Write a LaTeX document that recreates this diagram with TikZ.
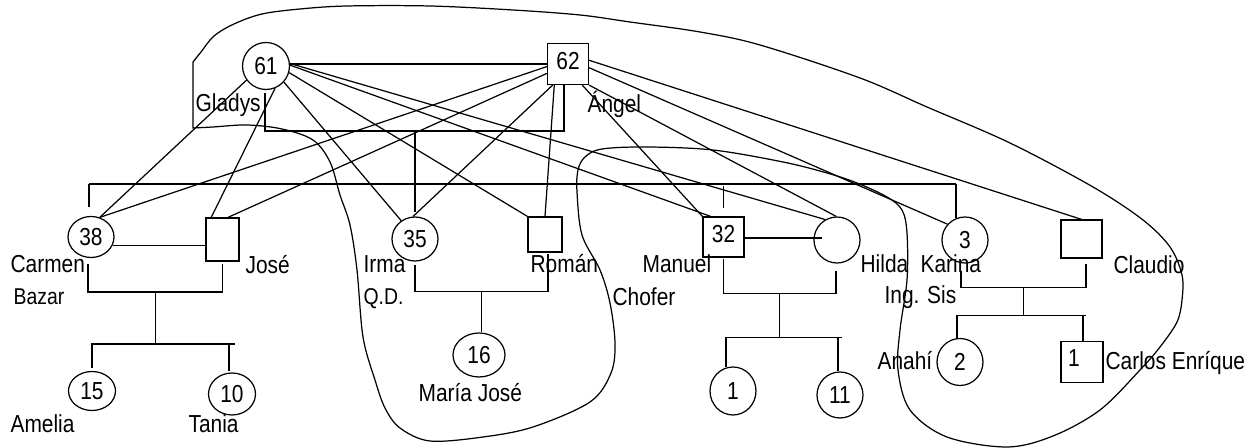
\documentclass[tikz,border=0pt]{standalone}
\usepackage{fontspec}
\setmainfont{Liberation Sans}[FakeStretch=0.85]
\usetikzlibrary{shapes.geometric,calc}

\begin{document}
\begin{tikzpicture}[x=0.02cm,y=-0.02cm,line width=0.7pt,
        base/.style={draw,inner sep=0pt,font=\fontsize{14}{16}\selectfont},
        fem/.style={base,ellipse,minimum width=0.92cm,minimum height=0.92cm},
        male/.style={base,rectangle,minimum width=0.82cm,minimum height=0.82cm,text depth=0.14cm},
        who/.style={inner sep=0pt,anchor=base west,font=\fontsize{14}{16}\selectfont},
        job/.style={who,font=\fontsize{13}{15}\selectfont}]
    \useasboundingbox (0,0) rectangle (1248,448);

    % Grandparents
    \node[fem,minimum size=0.94cm] (gladys) at (266,66) {61};
    \node[male] (angel) at (568,64) {62};

    % Their children and the partners
    \node[fem,minimum height=0.82cm] (carmen) at (91,237) {38};
    \node[male,minimum width=0.66cm,minimum height=0.86cm] (jose) at (222.5,239.5) {};
    \node[fem,minimum height=0.88cm] (irma) at (415,239) {35};
    \node[male,minimum width=0.68cm,minimum height=0.70cm] (roman) at (545,234.5) {};
    \node[male,minimum height=0.80cm] (manuel) at (723.5,237) {32};
    \node[fem] (hilda) at (837,240) {};
    \node[fem] (karina) at (965,240) {3};
    \node[male,minimum height=0.76cm] (claudio) at (1081.5,239) {};

    % Grandchildren
    \node[fem,minimum width=0.94cm,minimum height=0.78cm] (amelia) at (92,391) {15};
    \node[fem,minimum width=0.94cm,minimum height=0.84cm] (tania) at (232,394) {10};
    \node[fem,minimum width=1.04cm,minimum height=0.88cm] (mjose) at (479,355) {16};
    \node[fem,minimum height=0.96cm] (nino1) at (733,391) {1};
    \node[fem] (nino11) at (840,395) {11};
    \node[fem,minimum height=0.94cm] (anahi) at (960,362) {2};
    \node[male,minimum width=0.84cm,text width=0.56cm,align=left] (carlos) at (1082,362) {1};

    % Names
    \node[who] (lgladys) at (195,112) {Gladys};
    \node[who] (langel) at (587,113) {Ángel};
    \node[who] (lcarmen) at (10,273) {Carmen};
    \node[job] (lbazar) at (13,305) {Bazar};
    \node[who] (ljose) at (245,274) {José};
    \node[who] (lirma) at (363,273) {Irma};
    \node[job] (lqd) at (363,305) {Q.D.};
    \node[who] (lroman) at (530,273) {Román};
    \node[who] (lmanuel) at (642,273) {Manuel};
    \node[who] (lchofer) at (612,306) {Chofer};
    \node[who] (lhilda) at (860,273) {Hilda};
    \node[who] (lkarina) at (920,273) {Karina};
    \node[who] (lingsis) at (884,304) {Ing. Sis};
    \node[who] (lclaudio) at (1113,274) {Claudio};
    \node[who] (lanahi) at (877,370) {Anahí};
    \node[who] (lcarlos) at (1105,370) {Carlos Enríque};
    \node[who] (lamelia) at (10,433) {Amelia};
    \node[who] (ltania) at (188,433) {Tania};
    \node[who] (lmjose) at (418,402) {María José};

    % 61 -- 62 couple and the sibling line below
    \draw (gladys.5) -- (gladys.5 -| angel.west);
    \draw ($(gladys.south)+(-1,3)$) -- ++(0,38) coordinate (pbar) -| ($(angel.south)+(-4,0)$);
    \draw (pbar -| irma.north) -- coordinate[pos=.65] (sib) ($(irma.north)+(0,-4)$);
    \draw ($(carmen.north |- sib)+(-2,0)$) -- ($(karina.north |- sib)+(-9,0)$);
    \draw ($(carmen.north |- sib)+(-2,0)$) -- ($(carmen.north)+(-2,-9)$);
    \draw ($(manuel.north |- sib)+(0,2)$) -- ($(manuel.north)+(0,-8)$);
    \draw ($(karina.north |- sib)+(-9,0)$) -- ($(karina.north)+(-9,2)$);

    % lines from the grandparents to each child
    \foreach \a/\t in {216/carmen.66, 292/jose.117, 318/irma.127, -16/roman.north west, 2/manuel.122, 6/hilda.120}
        \draw (gladys.\a) -- (\t);
    \foreach \a/\t in {187/carmen.66, 204/jose.76, 234/irma.95, 237/roman.north, 304/manuel.north west, south east/hilda.92, 350/karina.138, 10/claudio.north}
        \draw (angel.\a) -- (\t);

    % Carmen and José
    \draw (carmen.-22) -- (carmen.-22 -| jose.west);
    \draw ($(carmen.south)+(-3,6)$) -- ++(0,28) -| coordinate[pos=.25] (cjd) ($(jose.south)+(0,2)$);
    \draw (cjd) -- ++(0,52) coordinate (cjk);
    \draw ($(amelia.north)+(0,-3)$) |- ($(tania.north |- cjk)+(3,0)$);
    \draw ($(tania.north |- cjk)+(-3,0)$) -- ($(tania.north)+(-3,-1)$);

    % Irma and Román
    \draw ($(irma.south)+(0,3)$) -- ++(0,27) -| coordinate[pos=.25] (ird) ($(roman.south)+(3,1)$);
    \draw (ird) -- (ird |- mjose.north);

    % Manuel and Hilda
    \draw[shorten >=-0.18cm] (manuel.-3) -- (manuel.-3 -| hilda.west);
    \draw ($(manuel.south)+(0,1)$) -- ++(0,35) -| coordinate[pos=.25] (mhd) ($(hilda.south)+(-1,7)$);
    \draw (mhd) -- ++(0,44) coordinate (mhk);
    \draw ($(nino1.north)+(-7,1)$) |- ($(nino11.north |- mhk)+(2,0)$);
    \draw ($(nino11.north |- mhk)+(-2,0)$) -- ($(nino11.north)+(-2,0)$);

    % Karina and Claudio
    \draw ($(karina.south)+(-4,7)$) -- ++(0,17) -| coordinate[pos=.25] (kcd) ($(claudio.south)+(4.5,5)$);
    \draw (kcd) -- ++(0,28) coordinate (kck);
    \draw ($(anahi.north)+(-3,1)$) |- ($(carlos.north |- kck)+(4,0)$);
    \draw ($(carlos.north |- kck)+(1,0)$) -- ($(carlos.north)+(1,0)$);

    % the household loop
    \draw plot[smooth,tension=.55] coordinates {(193,62) (201,52) (214,36) (234,24) (262,14) (300,9)
        (347,6) (430,6) (513,10) (580,15) (630,22) (700,32) (760,45) (860,78) (927,107) (1010,143)
        (1093,187) (1143,220) (1170,247) (1182,275) (1182,300) (1177,322) (1160,347) (1140,370)
        (1100,410) (1053,436) (1007,447) (947,437) (910,410) (898,370) (900,330) (907,280) (907,233)
        (902,210) (887,197) (857,183) (827,173) (783,162) (713,150) (647,147) (602,149) (585,157)
        (578,170) (577,192) (582,235) (600,270) (610,303) (615,343) (611,373) (590,402) (533,427)
        (483,437) (430,441) (400,428) (385,408) (375,380) (363,337) (357,270) (350,225) (340,195)
        (330,162) (313,140) (282,129) (247,125) (213,127) (193,128)} -- cycle;
\end{tikzpicture}
\end{document}
